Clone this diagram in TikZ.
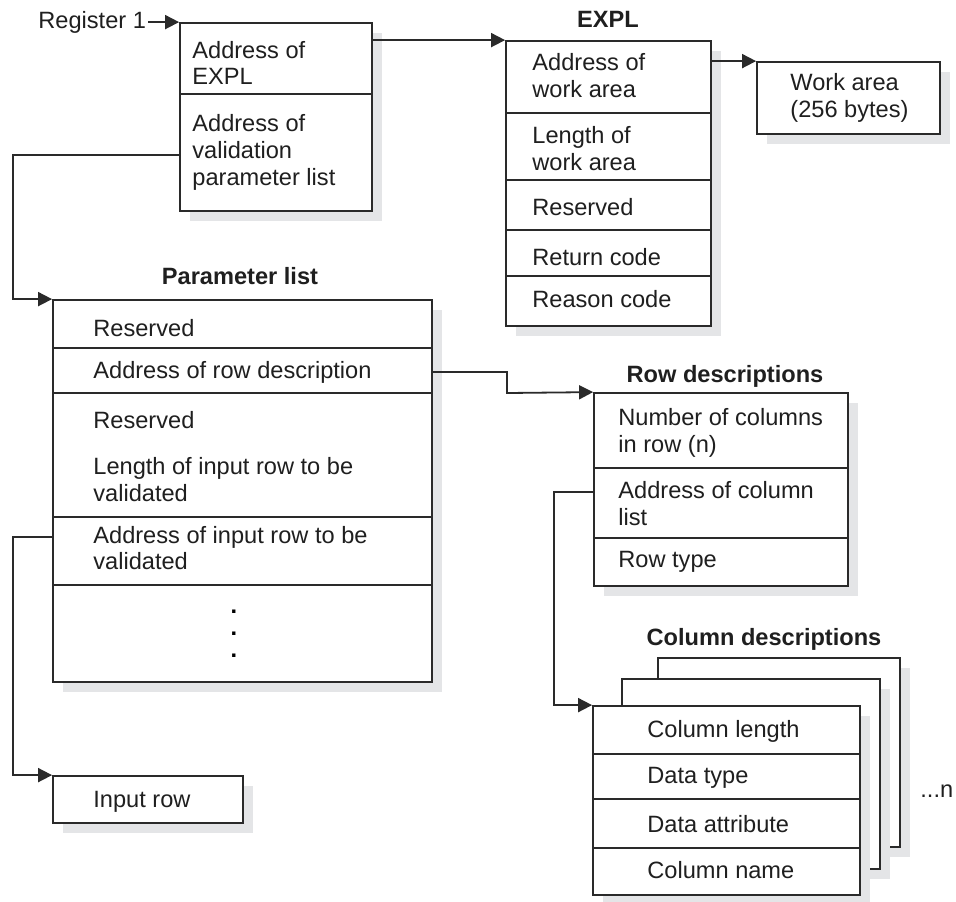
\documentclass[tikz,border=0pt]{standalone}
\usepackage{fontspec}
\setmainfont{Liberation Sans}
\usetikzlibrary{arrows.meta,shadows,fit,calc}
\definecolor{linec}{HTML}{2A2A2A}
\definecolor{shadowc}{HTML}{E4E5E7}
\begin{document}
\begin{tikzpicture}[x=0.5pt,y=-0.5pt,
  box/.style={draw=linec, line width=0.9pt, fill=white, inner sep=0pt,
    drop shadow={shadow xshift=5pt, shadow yshift=-5pt, fill=shadowc, opacity=1}},
  divl/.style={draw=linec, line width=0.9pt},
  txt/.style={anchor=base west, inner sep=0pt, text=black!88, font=\fontsize{11.8}{13.5}\selectfont},
  ttl/.style={anchor=base, inner sep=0pt, text=black!88, font=\fontsize{11.8}{13.5}\selectfont\bfseries},
  dotn/.style={anchor=center, inner sep=0pt, font=\fontsize{11.8}{13.5}\selectfont\bfseries},
  arr/.style={draw=linec, line width=0.9pt, -{Triangle[length=7pt,width=7pt]}}]
\useasboundingbox (0,0) rectangle (956,901);

% ---- Register box A
\node[box, fit={(180,23) (372,211)}] (A) {};
\draw[divl] (A.west |- 0,94) -- (A.east |- 0,94);
\node[txt] (tA1) at (192,58) {Address of};
\node[txt] (tA2) at (192,84) {EXPL};
\node[txt] (tA3) at (192,131) {Address of};
\node[txt] (tA4) at (192,158) {validation};
\node[txt] (tA5) at (192,185) {parameter list};
\node[txt] (reg) at (38,28) {Register 1};

% ---- EXPL
\node[box, fit={(506,41) (711,326)}] (E) {};
\foreach \yy in {113,180,230,276} \draw[divl] (E.west |- 0,\yy) -- (E.east |- 0,\yy);
\node[ttl] (tEt) at (608,27) {EXPL};
\node[txt] (tE1) at (532,70) {Address of};
\node[txt] (tE2) at (532,97) {work area};
\node[txt] (tE3) at (532,143) {Length of};
\node[txt] (tE4) at (532,170) {work area};
\node[txt] (tE5) at (532,215) {Reserved};
\node[txt] (tE6) at (532,265) {Return code};
\node[txt] (tE7) at (532,307) {Reason code};

% ---- Work area
\node[box, fit={(757,62) (940,134)}] (W) {};
\node[txt] (tW1) at (790,90) {Work area};
\node[txt] (tW2) at (790,117) {(256 bytes)};

% ---- Parameter list
\node[box, fit={(53,300) (432,682)}] (P) {};
\foreach \yy in {348,393,517,585} \draw[divl] (P.west |- 0,\yy) -- (P.east |- 0,\yy);
\node[ttl] (tPt) at (240,284) {Parameter list};
\node[txt] (tP1) at (93,336) {Reserved};
\node[txt] (tP2) at (93,378) {Address of row description};
\node[txt] (tP3) at (93,428) {Reserved};
\node[txt] (tP4) at (93,474) {Length of input row to be};
\node[txt] (tP5) at (93,501) {validated};
\node[txt] (tP6) at (93,543) {Address of input row to be};
\node[txt] (tP7) at (93,569) {validated};
\node[dotn] (d1) at (234,612) {.};
\node[dotn] (d2) at (234,634) {.};
\node[dotn] (d3) at (234,656) {.};

% ---- Row descriptions
\node[box, fit={(594,393) (848,586)}] (R) {};
\foreach \yy in {468,538} \draw[divl] (R.west |- 0,\yy) -- (R.east |- 0,\yy);
\node[ttl] (tRt) at (725,382) {Row descriptions};
\node[txt] (tR1) at (618,425) {Number of columns};
\node[txt] (tR2) at (618,452) {in row (n)};
\node[txt] (tR3) at (618,498) {Address of column};
\node[txt] (tR4) at (618,525) {list};
\node[txt] (tR5) at (618,567) {Row type};

% ---- Column descriptions
\node[box, fit={(658,658) (900,847)}] (C3) {};
\node[box, fit={(622,679) (880,869)}] (C2) {};
\node[box, fit={(593,706) (860,895)}] (C) {};
\foreach \yy in {754,799,848} \draw[divl] (C.west |- 0,\yy) -- (C.east |- 0,\yy);
\node[ttl] (tCt) at (764,645) {Column descriptions};
\node[txt] (tC1) at (647,737) {Column length};
\node[txt] (tC2) at (647,783) {Data type};
\node[txt] (tC3) at (647,832) {Data attribute};
\node[txt] (tC4) at (647,878) {Column name};
\node[txt] (tn) at (920,797) {...n};

% ---- Input row
\node[box, fit={(53,776) (243,823)}] (I) {};
\node[txt] (tI) at (93,807) {Input row};

% ---- connectors
\draw[arr] ([xshift=1pt]reg.east |- A.north west) -- (A.north west);
\draw[arr] (A.east |- E.north west) -- (E.north west);
\draw[arr] (E.east |- W.north west) -- (W.north west);
\draw[arr] (A.west |- 0,155) -| ($(P.north west)+(-39,0)$) -- (P.north west);
\draw[arr] (P.east |- 0,372) -- (507,372) -- (507,393) -- (R.north west);
\draw[arr] (R.west |- 0,492) -| ($(C.north west)+(-38,0)$) -- (C.north west);
\draw[arr] (P.west |- 0,537) -| ($(I.north west)+(-39,0)$) -- (I.north west);
\end{tikzpicture}
\end{document}
